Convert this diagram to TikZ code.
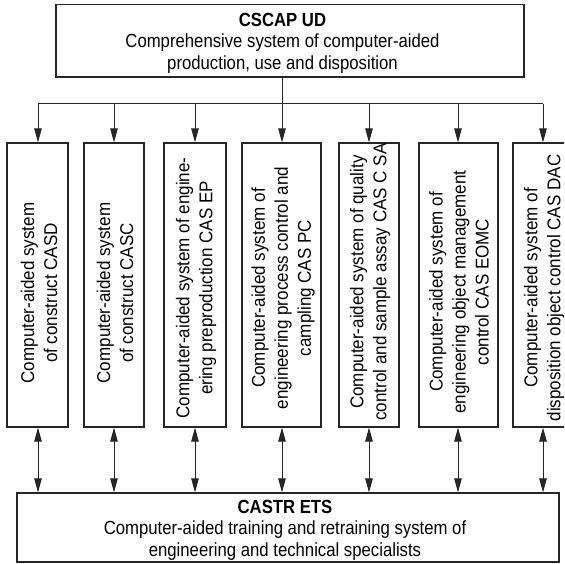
\documentclass[tikz,border=0pt]{standalone}
\usepackage{fontspec}
\setmainfont{Liberation Sans}[FakeStretch=0.88]
\newfontfamily\boxfont{Liberation Sans}[FakeStretch=0.92]
\usetikzlibrary{arrows.meta,positioning,calc}
\tikzset{
  >={Triangle[length=14pt,width=7.5pt]},
  ln/.style={line width=1pt, draw=black!85},
  big/.style={rectangle, draw=black!85, line width=1.2pt, inner sep=0pt},
  sys/.style={rectangle, draw=black!85, line width=1.2pt, inner sep=0pt, minimum height=284pt},
  htxt/.style={align=center, inner sep=0pt, font=\fontsize{19}{21.5}\selectfont},
  vtxt/.style={rotate=90, align=center, inner sep=0pt, font=\boxfont\fontsize{18.5}{23}\selectfont},
  tr/.style={->, ln},
  dtr/.style={<->, ln}
}
\begin{document}
\begin{tikzpicture}[x=1pt, y=-1pt]
    \useasboundingbox (0,0) rectangle (564,564);
    \clip (0,0) rectangle (564,564);

    % CSCAP UD
    \node[big, minimum width=468pt, minimum height=72.5pt] (cscap) at (290,40.75) {};
    \node[htxt] (cscaptxt) at (282.5,43) {\textbf{CSCAP UD}\\Comprehensive system of computer-aided\\production, use and disposition};

    % bus
    \coordinate (b1) at (38,104);
    \coordinate (b2) at (114,104);
    \coordinate (b3) at (195,104);
    \coordinate (b4) at (282,104);
    \coordinate (b5) at (369,104);
    \coordinate (b6) at (458,104);
    \coordinate (b7) at (543,104);

    % subsystems
    \node[sys, minimum width=61pt] (casd) at (37.5,285) {};
    \node[sys, minimum width=60pt] (casc) at (114,285) {};
    \node[sys, minimum width=62pt] (casep) at (195,285) {};
    \node[sys, minimum width=79pt] (caspc) at (281.5,285) {};
    \node[sys, minimum width=60pt] (cascsa) at (369,285) {};
    \node[sys, minimum width=79pt] (caseomc) at (458.5,285) {};
    \node[sys, minimum width=60pt] (casdac) at (543,285) {};

    \node[vtxt] (casdtxt) at (39,293) {Computer-aided system\\of construct CASD};
    \node[vtxt] (casctxt) at (115,293) {Computer-aided system\\of construct CASC};
    \node[vtxt] (caseptxt) at (196,288) {Computer-aided system of engine-\\ering preproduction CAS EP};
    \node[vtxt] (caspctxt) at (283,288) {Computer-aided system of\\engineering process control and\\campling CAS PC};
    \node[vtxt] (cascsatxt) at (370,282) {Computer-aided system of quality\\control and sample assay CAS C SA};
    \node[vtxt] (caseomctxt) at (459,292) {Computer-aided system of\\engineering object management\\control CAS EOMC};
    \node[vtxt] (casdactxt) at (544,288) {Computer-aided system of\\disposition object control CAS DAC};

    % CASTR ETS
    \node[big, minimum width=542pt, minimum height=69pt] (castr) at (288,527.5) {};
    \node[htxt] (castrtxt) at (285,530) {\textbf{CASTR ETS}\\Computer-aided training and retraining system of\\engineering and technical specialists};

    % connections
    \draw[ln] (cscap.south -| b4) -- (b4);
    \draw[ln] (b1) -- (b7);
    \draw[tr] (b1) -- (b1 |- casd.north);
    \draw[tr] (b2) -- (b2 |- casc.north);
    \draw[tr] (b3) -- (b3 |- casep.north);
    \draw[tr] (b4) -- (b4 |- caspc.north);
    \draw[tr] (b5) -- (b5 |- cascsa.north);
    \draw[tr] (b6) -- (b6 |- caseomc.north);
    \draw[tr] (b7) -- (b7 |- casdac.north);

    \draw[dtr] (b1 |- casd.south) -- (b1 |- castr.north);
    \draw[dtr] (b2 |- casc.south) -- (b2 |- castr.north);
    \draw[dtr] (b3 |- casep.south) -- (b3 |- castr.north);
    \draw[dtr] (b4 |- caspc.south) -- (b4 |- castr.north);
    \draw[dtr] (b5 |- cascsa.south) -- (b5 |- castr.north);
    \draw[dtr] (b6 |- caseomc.south) -- (b6 |- castr.north);
    \draw[dtr] (b7 |- casdac.south) -- (b7 |- castr.north);
\end{tikzpicture}
\end{document}
